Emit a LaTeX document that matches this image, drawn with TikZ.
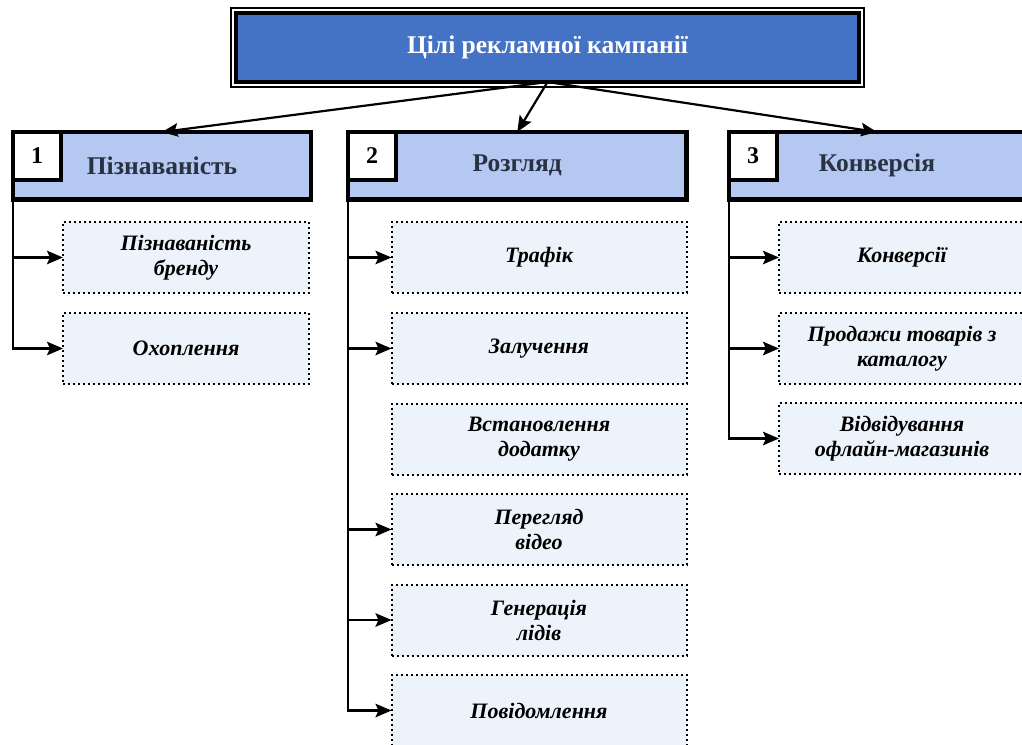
\documentclass[tikz,border=0pt]{standalone}
\usepackage{fontspec}
\setmainfont{Liberation Serif}
\usetikzlibrary{arrows.meta}
\definecolor{titleblue}{RGB}{68,114,196}
\definecolor{headblue}{RGB}{180,200,242}
\definecolor{subfill}{RGB}{237,243,250}
\definecolor{headtext}{RGB}{40,50,66}
\tikzset{
  titleouter/.style={draw=black, line width=1.4pt, fill=white, outer sep=0pt, inner sep=0pt, anchor=north west},
  titlebox/.style={draw=black, line width=3.8pt, fill=titleblue, outer sep=0pt, inner sep=0pt, anchor=north west,
    text=white, font=\fontsize{25.5}{28}\selectfont\bfseries},
  headbox/.style={draw=black, line width=4.5pt, fill=headblue, outer sep=0pt, inner sep=0pt, anchor=north west,
    minimum height=67.5pt, text=headtext, font=\fontsize{25.5}{28}\selectfont\bfseries},
  numbox/.style={draw=black, line width=4.5pt, fill=white, outer sep=0pt, inner sep=0pt, anchor=north west,
    minimum width=48pt, minimum height=48pt, font=\fontsize{24}{26}\selectfont\bfseries},
  subbox/.style={draw=black, line width=2pt, dash pattern=on 2pt off 3pt, fill=subfill, outer sep=0pt,
    inner sep=0pt, anchor=north west, minimum height=71pt, align=center,
    font=\fontsize{22}{25}\selectfont\bfseries\itshape},
  conn/.style={line width=2.2pt, -{Stealth[length=16pt,width=13.5pt,inset=3pt]}},
}
\begin{document}
\begin{tikzpicture}[x=1pt,y=-1pt]
\clip (0,0) rectangle (1022,744);
\fill[white] (0,0) rectangle (1022,744);
% title
\node[titleouter, minimum width=633pt, minimum height=79pt] (titleo) at (231,8) {};
\node[titlebox, minimum width=623pt, minimum height=69pt] (title) at (236,13) {Цілі рекламної кампанії};
% headers
\node[headbox, minimum width=298pt] (h1) at (13,132) {Пізнаваність};
\node[headbox, minimum width=338.5pt] (h2) at (348,132) {Розгляд};
\node[headbox, minimum width=296pt] (h3) at (729,132) {Конверсія};
\node[numbox] (n1) at (h1.north west) {1};
\node[numbox] (n2) at (h2.north west) {2};
\node[numbox] (n3) at (h3.north west) {3};
% title arrows
\draw[conn] (title.south) -- (h1.north);
\draw[conn] (title.south) -- (h2.north);
\draw[conn] (title.south) -- (h3.north);
% column 1
\node[subbox, minimum width=246pt] (s11) at (63,222) {Пізнаваність\\бренду};
\node[subbox, minimum width=246pt] (s12) at (63,313) {Охоплення};
% column 2
\node[subbox, minimum width=295pt] (s21) at (391.5,222) {Трафік};
\node[subbox, minimum width=295pt] (s22) at (391.5,313) {Залучення};
\node[subbox, minimum width=295pt] (s23) at (391.5,403.5) {Встановлення\\додатку};
\node[subbox, minimum width=295pt] (s24) at (391.5,494) {Перегляд\\відео};
\node[subbox, minimum width=295pt] (s25) at (391.5,584.5) {Генерація\\лідів};
\node[subbox, minimum width=295pt] (s26) at (391.5,675) {Повідомлення};
% column 3
\node[subbox, minimum width=246pt] (s31) at (779,222) {Конверсії};
\node[subbox, minimum width=246pt] (s32) at (779,313) {Продажи товарів з\\каталогу};
\node[subbox, minimum width=246pt] (s33) at (779,403) {Відвідування\\офлайн-магазинів};
% connectors
\draw[conn] (h1.south west) |- (s11.west);
\draw[conn] (h1.south west) |- (s12.west);
\draw[conn] (h2.south west) |- (s21.west);
\draw[conn] (h2.south west) |- (s22.west);
\draw[conn] (h2.south west) |- (s24.west);
\draw[conn] (h2.south west) |- (s25.west);
\draw[conn] (h2.south west) |- (s26.west);
\draw[conn] (h3.south west) |- (s31.west);
\draw[conn] (h3.south west) |- (s32.west);
\draw[conn] (h3.south west) |- (s33.west);
\end{tikzpicture}
\end{document}
